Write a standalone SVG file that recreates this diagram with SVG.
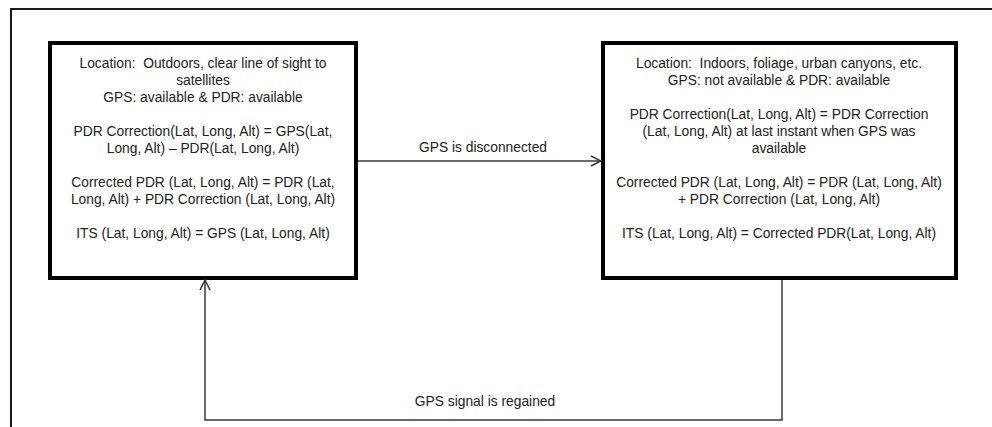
<svg xmlns="http://www.w3.org/2000/svg" width="992" height="427" viewBox="0 0 992 427">
<style>
  .frame { fill: none; stroke: #1a1a1a; stroke-width: 2; }
  .box { fill: #ffffff; stroke: #000000; stroke-width: 4; }
  .t { font-family: "Liberation Sans", Arial, sans-serif; font-size: 13.8px; fill: #222222; text-anchor: middle; }
  .conn { fill: none; stroke: #3a3a3a; stroke-width: 1.5; }
</style>
<defs>
  <marker id="open" viewBox="0 0 12 12" refX="11" refY="6" markerWidth="12" markerHeight="12" markerUnits="userSpaceOnUse" orient="auto">
    <path d="M1,1 L11,6 L1,11" fill="none" stroke="#3a3a3a" stroke-width="1.5"/>
  </marker>
</defs>
<rect width="992" height="427" fill="#ffffff"/>
<path class="frame" d="M11,427 L11,9 L992,9"/>

<g id="outdoor">
  <rect class="box" x="50" y="43" width="306" height="235"/>
  <text class="t" xml:space="preserve" x="203" y="68">Location:  Outdoors, clear line of sight to</text>
  <text class="t" x="203" y="85">satellites</text>
  <text class="t" x="203" y="102">GPS: available &amp; PDR: available</text>
  <text class="t" x="203" y="136">PDR Correction(Lat, Long, Alt) = GPS(Lat,</text>
  <text class="t" x="203" y="153">Long, Alt) – PDR(Lat, Long, Alt)</text>
  <text class="t" x="203" y="187">Corrected PDR (Lat, Long, Alt) = PDR (Lat,</text>
  <text class="t" x="203" y="204">Long, Alt) + PDR Correction (Lat, Long, Alt)</text>
  <text class="t" x="203" y="238">ITS (Lat, Long, Alt) = GPS (Lat, Long, Alt)</text>
</g>

<g id="indoor">
  <rect class="box" x="603" y="43" width="353" height="235"/>
  <text class="t" xml:space="preserve" x="779" y="68">Location:  Indoors, foliage, urban canyons, etc.</text>
  <text class="t" x="779" y="85">GPS: not available &amp; PDR: available</text>
  <text class="t" x="779" y="119">PDR Correction(Lat, Long, Alt) = PDR Correction</text>
  <text class="t" x="779" y="136">(Lat, Long, Alt) at last instant when GPS was</text>
  <text class="t" x="779" y="153">available</text>
  <text class="t" x="779" y="187">Corrected PDR (Lat, Long, Alt) = PDR (Lat, Long, Alt)</text>
  <text class="t" x="779" y="204">+ PDR Correction (Lat, Long, Alt)</text>
  <text class="t" x="779" y="238">ITS (Lat, Long, Alt) = Corrected PDR(Lat, Long, Alt)</text>
</g>

<g id="connectors">
  <path class="conn" d="M358,161 L601,161" marker-end="url(#open)"/>
  <text class="t" x="483" y="152">GPS is disconnected</text>
  <path class="conn" d="M782,280 L782,420 L205,420 L205,280" marker-end="url(#open)"/>
  <text class="t" x="485" y="406">GPS signal is regained</text>
</g>
</svg>
